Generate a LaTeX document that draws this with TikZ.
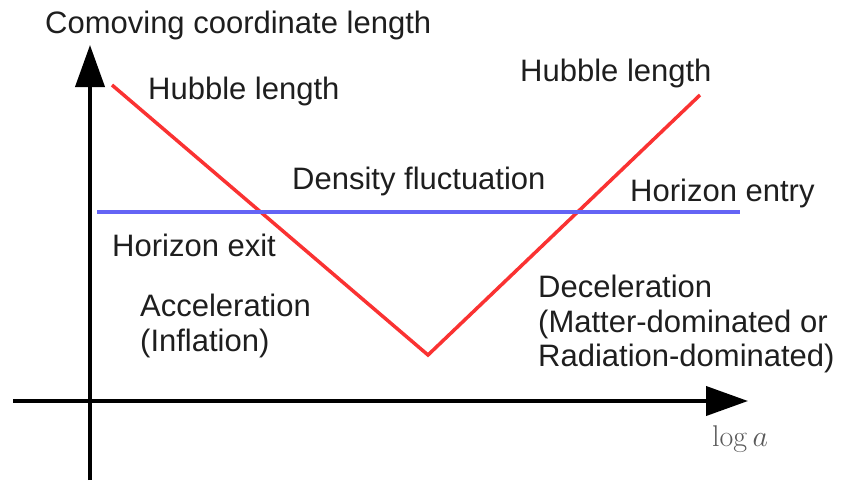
\documentclass[tikz,border=0pt]{standalone}
\usepackage{fix-cm}
\usepackage[no-math]{fontspec}
\setmainfont{Liberation Sans}
\usetikzlibrary{arrows.meta}
\definecolor{hubred}{RGB}{250,50,50}
\definecolor{horblue}{RGB}{100,100,245}
\definecolor{txt}{RGB}{30,30,30}
\definecolor{loggrey}{RGB}{90,90,90}
\tikzset{
  lbl/.style={anchor=base west, inner sep=0pt, text=txt, font=\fontsize{31}{37}\selectfont},
  axisline/.style={line width=4pt, black, -{Triangle[length=42pt,width=29pt]}},
  hubble/.style={line width=3.5pt, hubred, line join=miter},
  horizon/.style={line width=3.2pt, horblue}
}
\begin{document}
\begin{tikzpicture}[x=1pt,y=-1pt]
\useasboundingbox (0,0) rectangle (842,480);
% axes
\coordinate (yb) at (90,480);
\coordinate (yt) at (90,45);
\coordinate (xl) at (13,401);
\coordinate (xr) at (748,401);
\draw[axisline] (yb) -- (yt);
\draw[axisline] (xl) -- (xr);
% hubble length
\coordinate (h1) at (112,85);
\coordinate (hv) at (428,355);
\coordinate (h2) at (700,95);
\draw[hubble] (h1) -- (hv) -- (h2);
% fluctuation
\coordinate (f1) at (97,212);
\coordinate (f2) at (740,212);
\draw[horizon] (f1) -- (f2);
% labels
\node[lbl] (ylab) at (45,33) {Comoving coordinate length};
\node[lbl] (hl) at (148,99) {Hubble length};
\node[lbl] (hr) at (520,81) {Hubble length};
\node[lbl] (dens) at (292,189) {Density fluctuation};
\node[lbl] (hentry) at (630,201) {Horizon entry};
\node[lbl] (hexit) at (112,256) {Horizon exit};
\node[lbl] (acc) at (140,316) {Acceleration};
\node[lbl] (infl) at (140,351) {(Inflation)};
\node[lbl] (dec) at (538,297) {Deceleration};
\node[lbl] (mat) at (538,332) {(Matter-dominated or};
\node[lbl] (rad) at (538,366) {Radiation-dominated)};
\node[anchor=base west, inner sep=0pt, text=loggrey, font=\fontsize{30}{36}\selectfont] (loga) at (712,446) {$\log a$};
\end{tikzpicture}
\end{document}
